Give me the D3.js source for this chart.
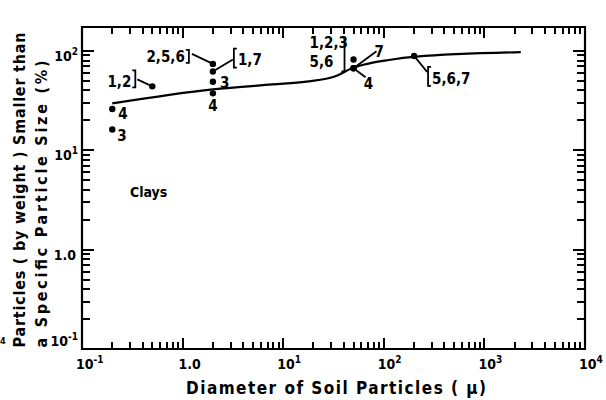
<!DOCTYPE html>
<html><head><meta charset="utf-8">
<script src="https://cdn.jsdelivr.net/npm/d3@7"></script>
<style>body{margin:0;background:#fff}svg{display:block}</style>
</head><body><svg id="c" width="606" height="400"></svg>
<script>
// ---- data ----
const xTickValues = [0.1, 1, 10, 100, 1000, 10000];
const xTickLabels = [["10","-1"],["1.0",""],["10","1"],["10","2"],["10","3"],["10","4"]];
const yTickValues = [0.1, 1, 10, 100];
const yTickLabels = [["10","-1"],["1.0",""],["10","1"],["10","2"]];
const curveX = [0.2, 2, 7.8, 17, 35, 48, 72, 112, 210, 2300];
const curveY = [29.6, 41, 46, 49, 57, 67, 75, 81, 87.5, 97];
const pointX = [0.2, 0.2, 0.5, 2, 2, 2, 2, 50, 50, 50, 200];
const pointY = [26, 16.2, 44, 74, 62, 49, 37.4, 82, 67, 67, 89];
const pointLabels = ["4", "3", "1,2", "2,5,6", "1,7", "3", "4", "1,2,3|5,6", "4", "7", "5,6,7"];
const xTitle = "Diameter of Soil Particles ( \u03bc)";
const yTitle1 = "Particles ( by weight ) Smaller than";
const yTitle2 = "a Specific Particle Size (%)";
const regionLabel = "Clays";

// ---- drawing ----
const svg = d3.select("#c");
const L = 82, R = 585, T = 27, B = 349;
const x = d3.scaleLog().domain([0.1, 10000]).range([L, R]);
const y = d3.scaleLog().domain([0.1, 174]).range([B, T]);
const FONT = "'DejaVu Sans Condensed', 'DejaVu Sans', sans-serif";

function minors(lo, hi, maxV) {
  const out = [];
  for (let d = lo; d <= hi; d++) for (let k = 2; k <= 9; k++) {
    const v = k * Math.pow(10, d);
    if (v <= maxV) out.push(v);
  }
  return out;
}
const xMinor = minors(-1, 3, 10000);
const yMinor = minors(-1, 2, 174);

function tickPath(d) {
  svg.append("path").attr("d", d).attr("fill", "none")
    .attr("stroke", "#000").attr("stroke-width", 2);
}
function hTicks(vals, y0, len) {
  tickPath(vals.map(v => `M${Math.round(x(v))},${y0}V${y0 + len}`).join(""));
}
function vTicks(vals, x0, len) {
  tickPath(vals.map(v => `M${x0},${Math.round(y(v))}H${x0 + len}`).join(""));
}
hTicks(xMinor, B, -7); hTicks(xTickValues, B, -11);
hTicks(xMinor, T, 7); hTicks(xTickValues, T, 11);
vTicks(yMinor, L, 8); vTicks(yTickValues, L, 12);
vTicks(yMinor, R, -8); vTicks(yTickValues, R, -12);

// frame
svg.append("path").attr("d", `M${L},${T}H${R}V${B}H${L}Z`)
  .attr("fill", "none").attr("stroke", "#000").attr("stroke-width", 2.2);

// tick labels
function tickLabel(parts, anchor) {
  const t = svg.append("text").attr("font-family", FONT).attr("font-weight", "bold")
    .attr("font-size", 14).attr("text-anchor", anchor).attr("fill", "#000");
  t.append("tspan").text(parts[0]);
  if (parts[1]) t.append("tspan").attr("dy", -6).attr("font-size", 10).text(parts[1]);
  return t;
}
xTickValues.forEach((v, i) => {
  const p = xTickLabels[i];
  const t = tickLabel(p, p[1] ? "start" : "middle");
  t.attr("x", p[1] ? x(v) - 6 : x(v) + 7).attr("y", 369);
});
yTickValues.forEach((v, i) => {
  const p = yTickLabels[i];
  const t = tickLabel(p, "end");
  t.attr("x", p[1] ? 78 : 76).attr("y", i === 0 ? y(v) - 3 : y(v) + 10);
});

// axis titles
svg.append("text").attr("x", 186).attr("y", 394).attr("font-family", FONT)
  .attr("font-weight", "bold").attr("font-size", 17).attr("textLength", 300)
  .attr("lengthAdjust", "spacing").text(xTitle);
svg.append("text").attr("transform", "translate(25,190) rotate(-90)")
  .attr("text-anchor", "middle").attr("font-family", FONT).attr("font-weight", "bold")
  .attr("font-size", 16).attr("textLength", 315).attr("lengthAdjust", "spacing").text(yTitle1);
svg.append("text").attr("transform", "translate(47,204) rotate(-90)")
  .attr("text-anchor", "middle").attr("font-family", FONT).attr("font-weight", "bold")
  .attr("font-size", 16).attr("textLength", 287).attr("lengthAdjust", "spacing").text(yTitle2);
svg.append("text").attr("x", 0).attr("y", 344).attr("font-family", FONT)
  .attr("font-weight", "bold").attr("font-size", 9).text("4");

// curve
const curveData = curveX.map((v, i) => [v, curveY[i]]);
svg.append("path").datum(curveData)
  .attr("d", d3.line().x(d => x(d[0])).y(d => y(d[1])).curve(d3.curveMonotoneX))
  .attr("fill", "none").attr("stroke", "#000").attr("stroke-width", 2.2);

// points
const pts = pointX.map((v, i) => ({ px: x(v), py: y(pointY[i]), label: pointLabels[i] }));
svg.selectAll("circle.pt").data(pts).join("circle").attr("class", "pt")
  .attr("cx", d => d.px).attr("cy", d => d.py).attr("r", 3.2).attr("fill", "#000");

// annotations
const ann = svg.append("g").attr("font-family", FONT).attr("font-weight", "bold")
  .attr("font-size", 15).attr("fill", "#000");
const lineStyle = s => s.attr("fill", "none").attr("stroke", "#000").attr("stroke-width", 1.8);
function seg(x1, y1, x2, y2) { lineStyle(ann.append("path").attr("d", `M${x1},${y1}L${x2},${y2}`)); }
function bracket(bx, y1, y2, dir) {
  lineStyle(ann.append("path").attr("d", `M${bx + dir * 3},${y1}L${bx},${y1}L${bx},${y2}L${bx + dir * 3},${y2}`));
}
function txt(tx, ty, s, anchor) {
  ann.append("text").attr("x", tx).attr("y", ty).attr("text-anchor", anchor || "start").text(s);
}
pts.forEach((d, i) => {
  const { px, py, label } = d;
  switch (i) {
    case 0: txt(px + 6, py + 10, label); break;
    case 1: txt(px + 5, py + 12, label); break;
    case 2:
      seg(px - 15, py - 7, px, py); bracket(px - 17, py - 16, py + 1, -1);
      txt(px - 21, py + 1, label, "end"); break;
    case 3:
      seg(px - 21, py - 10, px, py); bracket(px - 24, py - 14, py - 1, -1);
      txt(px - 28, py - 2, label, "end"); break;
    case 4:
      seg(px, py, px + 20, py - 12); bracket(px + 21, py - 23, py - 4, 1);
      txt(px + 25, py - 7, label); break;
    case 5: txt(px + 7, py + 6, label); break;
    case 6: txt(px, py + 18, label, "middle"); break;
    case 7: {
      const [a, b] = label.split("|");
      bracket(px - 9, py - 22, py + 12, -1);
      txt(px - 44, py - 11, a); txt(px - 44, py + 8, b); break;
    }
    case 8: seg(px, py, px + 12, py + 9); txt(px + 15, py + 21, label, "middle"); break;
    case 9: seg(px, py, px + 23, py - 17); txt(px + 21, py - 11, label); break;
    case 10:
      seg(px, py, px + 13, py + 16); bracket(px + 14, py + 11, py + 30, 1);
      txt(px + 18, py + 28, label); break;
  }
});

svg.append("text").attr("x", 130).attr("y", 197).attr("font-family", FONT)
  .attr("font-weight", "bold").attr("font-size", 14).text(regionLabel);
</script></body></html>
